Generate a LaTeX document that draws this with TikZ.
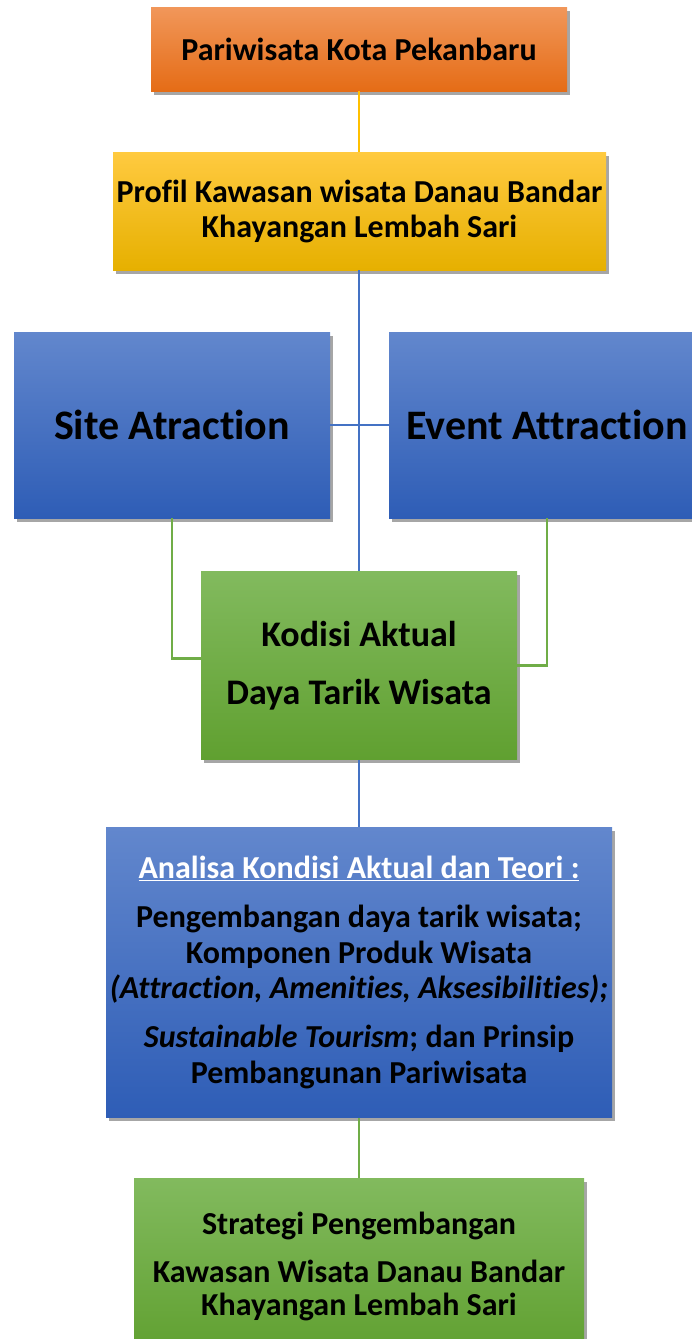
\documentclass[tikz,border=0pt]{standalone}
\usepackage{fontspec}
\setmainfont{Carlito}[Ligatures={NoCommon}]
\usetikzlibrary{shadows}
\definecolor{orangetop}{RGB}{241,151,90}
\definecolor{orangebot}{RGB}{229,108,22}
\definecolor{goldtop}{RGB}{255,202,64}
\definecolor{goldbot}{RGB}{230,176,0}
\definecolor{bluetop}{RGB}{98,135,205}
\definecolor{bluebot}{RGB}{46,93,182}
\definecolor{greentop}{RGB}{130,186,94}
\definecolor{greenbot}{RGB}{96,160,48}
\definecolor{lineyellow}{RGB}{255,192,0}
\definecolor{lineblue}{RGB}{68,114,196}
\definecolor{linegreen}{RGB}{112,173,71}

\begin{document}
\begin{tikzpicture}[x=1pt, y=-1pt,
    box/.style={inner sep=0pt, align=center,
        drop shadow={shadow xshift=2.5pt, shadow yshift=-3.5pt, opacity=0.35, fill=black}},
    orangebox/.style={box, top color=orangetop, bottom color=orangebot},
    goldbox/.style={box, top color=goldtop, bottom color=goldbot},
    bluebox/.style={box, top color=bluetop, bottom color=bluebot},
    greenbox/.style={box, top color=greentop, bottom color=greenbot},
    link/.style={line width=2.2pt}]
    \useasboundingbox (0,0) rectangle (692,1339);

    % Top boxes
    \node[orangebox, minimum width=416pt, minimum height=84pt,
        font=\bfseries\fontsize{32}{35.5}\selectfont] (pariwisata) at (359,49)
        {Pariwisata Kota Pekanbaru};
    \node[goldbox, minimum width=493pt, minimum height=118pt,
        font=\bfseries\fontsize{32}{35}\selectfont] (profil) at (359.5,211)
        {Profil Kawasan wisata Danau Bandar\\Khayangan Lembah Sari};

    % Attractions
    \node[bluebox, minimum width=316pt, minimum height=186pt,
        font=\bfseries\fontsize{42}{46}\selectfont] (site) at (172,425) {Site Atraction};
    \node[bluebox, minimum width=316pt, minimum height=186pt,
        font=\bfseries\fontsize{42}{46}\selectfont] (event) at (547,425) {Event Attraction};

    % Actual condition
    \node[greenbox, minimum width=316pt, minimum height=188pt,
        font=\bfseries\fontsize{36}{44}\selectfont] (kodisi) at (359,665.5)
        {Kodisi Aktual\\[14pt]Daya Tarik Wisata};

    % Analysis
    \node[bluebox, minimum width=506pt, minimum height=290pt,
        font=\bfseries\fontsize{32}{35.5}\selectfont] (analisa) at (359,972.5)
        {\textcolor{white}{\underline{Analisa Kondisi Aktual dan Teori :}}\\[13.5pt]
         Pengembangan daya tarik wisata;\\
         Komponen Produk Wisata\\
         \textit{(Attraction, Amenities, Aksesibilities);}\\[13.5pt]
         \textit{Sustainable Tourism}; dan Prinsip\\
         Pembangunan Pariwisata};

    % Strategy
    \node[greenbox, minimum width=450pt, minimum height=176pt,
        font=\bfseries\fontsize{32}{32.5}\selectfont] (strategi) at (359,1266)
        {Strategi Pengembangan\\[16pt]
         Kawasan Wisata Danau Bandar\\
         Khayangan Lembah Sari};

    % Connectors
    \draw[link, lineyellow] (pariwisata.south) -- (pariwisata.south |- profil.north);
    \draw[link, lineblue] (kodisi.north |- profil.south) -- (kodisi.north);
    \draw[link, lineblue] (site.east) -- (event.west);
    \draw[link, linegreen] (site.south) |- ([yshift=7pt]kodisi.west);
    \draw[link, linegreen] (event.south) |- (kodisi.east);
    \draw[link, lineblue] (kodisi.south) -- (kodisi.south |- analisa.north);
    \draw[link, linegreen] (analisa.south) -- (analisa.south |- strategi.north);
\end{tikzpicture}
\end{document}
